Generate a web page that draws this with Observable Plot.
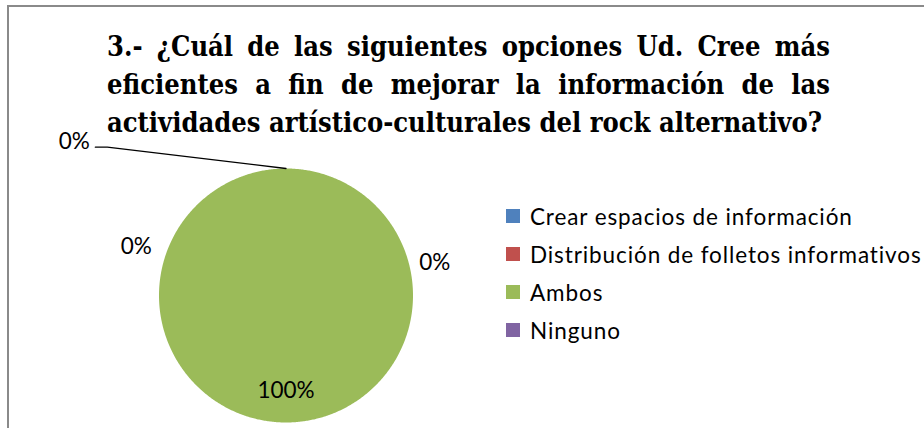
<!DOCTYPE html>
<html><head><meta charset="utf-8">
<script src="https://cdn.jsdelivr.net/npm/d3@7"></script>
<script src="https://cdn.jsdelivr.net/npm/@observablehq/plot@0.6"></script>
<style>
html,body{margin:0;padding:0;background:#fff;}
#wrap{position:relative;width:924px;height:428px;overflow:hidden;background:#fff;}
#frame{position:absolute;left:7px;top:5px;width:940px;height:440px;border-top:2px solid #8a8a8a;border-left:2px solid #8a8a8a;}
#chart{position:absolute;left:0;top:0;}
#title{position:absolute;left:107px;top:28px;width:723px;font-family:"DejaVu Serif";font-weight:bold;font-size:28px;line-height:38px;color:#000;transform-origin:0 0;}
#title div{white-space:nowrap;}
#title .j{text-align:justify;text-align-last:justify;white-space:normal;}
#legend{position:absolute;left:506px;top:197px;font-family:Lato,"Open Sans",sans-serif;font-size:22.5px;color:#000;letter-spacing:0.9px;white-space:nowrap;}
.row{display:flex;align-items:center;height:38px;}
.sw{width:14px;height:14px;margin-right:10px;flex:none;}
</style></head>
<body>
<div id="wrap">
  <div id="frame"></div>
  <div id="chart"></div>
  <div id="title"></div>
  <div id="legend"></div>
</div>
<script>
const titleLines = [
  "3.- ¿Cuál de las siguientes opciones Ud. Cree más",
  "eficientes a fin de mejorar la información de las",
  "actividades artístico-culturales del rock alternativo?"
];
const categories = ["Crear espacios de información", "Distribución de folletos informativos", "Ambos", "Ninguno"];
const values = [0, 0, 100, 0];
const percentLabels = ["0%", "0%", "100%", "0%"];
const colors = ["#4F81BD", "#C0504D", "#9BBB59", "#8064A2"];
// Excel "best fit" label placement: angle (deg, clockwise from 12 o'clock) and distance (pie radii)
const labelAngles = [-54, 77.5, 180, -72];
const labelRadii = [2.06, 1.2, 0.75, 1.24];

const rows = categories.map((c, i) => ({cat: c, value: values[i], label: percentLabels[i],
  la: labelAngles[i] * Math.PI / 180, lr: labelRadii[i]}));
const arcs = d3.pie().sort(null).value(d => d.value)(rows);

const piePts = [];
arcs.forEach(a => {
  if (a.endAngle - a.startAngle <= 0) return;
  const n = Math.max(2, Math.ceil((a.endAngle - a.startAngle) / (Math.PI / 360)));
  piePts.push({cat: a.data.cat, x: 0, y: 0});
  for (let k = 0; k <= n; k++) {
    const t = a.startAngle + (a.endAngle - a.startAngle) * k / n;
    piePts.push({cat: a.data.cat, x: Math.sin(t), y: Math.cos(t)});
  }
  piePts.push({cat: a.data.cat, x: 0, y: 0});
});

const R = 127; // pixels per radius unit
const labelPts = arcs.map(a => ({
  cat: a.data.cat, text: a.data.label,
  x: a.data.lr * Math.sin(a.data.la), y: a.data.lr * Math.cos(a.data.la),
  mid: (a.startAngle + a.endAngle) / 2
}));
const leaderPts = [];
labelPts.filter(d => Math.hypot(d.x, d.y) > 1.6).forEach(d => {
  leaderPts.push({cat: d.cat, x: d.x + 21 / R, y: d.y - 5.5 / R});
  leaderPts.push({cat: d.cat, x: d.x + 33 / R, y: d.y - 5.5 / R});
  leaderPts.push({cat: d.cat, x: Math.sin(d.mid), y: Math.cos(d.mid)});
});

const plot = Plot.plot({
  width: 924, height: 428, margin: 0,
  style: {background: "transparent", overflow: "visible"},
  x: {domain: [-1, 1], range: [158.5, 412.5], axis: null},
  y: {domain: [-1, 1], range: [422, 168], axis: null},
  color: {domain: categories, range: colors},
  marks: [
    Plot.line(piePts, {x: "x", y: "y", z: "cat", fill: "cat", stroke: null, curve: "linear"}),
    Plot.line(leaderPts, {x: "x", y: "y", z: "cat", stroke: "#000", strokeWidth: 1.3}),
    Plot.text(labelPts, {x: "x", y: "y", text: "text", fill: "#000", fontSize: 22.5,
      fontFamily: "Lato, 'Open Sans', sans-serif", textAnchor: "middle"})
  ]
});
document.getElementById("chart").appendChild(plot);

// title: justified lines, horizontally condensed like the original
const t = document.getElementById("title");
const meas = document.createElement("span");
meas.style.whiteSpace = "nowrap";
meas.textContent = titleLines[titleLines.length - 1];
t.appendChild(meas);
const natural = meas.getBoundingClientRect().width;
t.removeChild(meas);
const sx = 715 / natural;
t.style.width = (723 / sx) + "px";
t.style.transform = `scaleX(${sx})`;
titleLines.forEach((l, i) => {
  const d = document.createElement("div");
  d.textContent = l;
  if (i < titleLines.length - 1) d.className = "j";
  t.appendChild(d);
});

const lg = document.getElementById("legend");
categories.forEach((c, i) => {
  const r = document.createElement("div");
  r.className = "row";
  const s = document.createElement("div");
  s.className = "sw"; s.style.background = colors[i];
  const tx = document.createElement("span");
  tx.textContent = c;
  r.appendChild(s); r.appendChild(tx);
  lg.appendChild(r);
});
</script>
</body></html>
